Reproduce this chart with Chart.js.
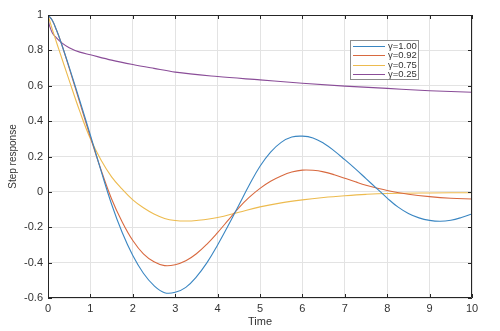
<!DOCTYPE html>
<html>
<head>
<meta charset="utf-8">
<script src="https://cdn.jsdelivr.net/npm/chart.js@4"></script>
<style>
html,body{margin:0;padding:0;background:#fff;}
canvas{display:block;}
</style>
</head>
<body>
<canvas id="c" width="500" height="331"></canvas>
<script>
// ---- data ----
const seriesLabels = ['γ=1.00', 'γ=0.92', 'γ=0.75', 'γ=0.25'];

const tBlue = [0, 0.1, 0.2, 0.3, 0.5, 0.75, 1, 1.25, 1.5, 1.75, 2, 2.25, 2.5, 2.75, 3, 3.25, 3.5, 3.75, 4, 4.25, 4.5, 4.75, 5, 5.25, 5.5, 5.75, 6, 6.25, 6.5, 6.75, 7, 7.25, 7.5, 7.75, 8, 8.25, 8.5, 8.75, 9, 9.25, 9.5, 9.75, 10];
const yBlue = [1, 0.97, 0.915, 0.85, 0.705, 0.515, 0.32, 0.12, -0.07, -0.23, -0.36, -0.46, -0.53, -0.57, -0.568, -0.54, -0.48, -0.4, -0.3, -0.19, -0.075, 0.04, 0.145, 0.225, 0.28, 0.31, 0.315, 0.305, 0.275, 0.232, 0.182, 0.13, 0.075, 0.02, -0.035, -0.085, -0.122, -0.147, -0.161, -0.166, -0.16, -0.145, -0.125];

const tRed = [0, 0.1, 0.2, 0.3, 0.5, 0.75, 1, 1.25, 1.5, 1.75, 2, 2.25, 2.5, 2.75, 3, 3.25, 3.5, 3.75, 4, 4.25, 4.5, 4.75, 5, 5.25, 5.5, 5.75, 6, 6.25, 6.5, 6.75, 7, 7.25, 7.5, 7.75, 8, 8.5, 9, 9.5, 10];
const yRed = [1, 0.97, 0.915, 0.85, 0.7, 0.505, 0.31, 0.125, -0.04, -0.17, -0.275, -0.35, -0.395, -0.417, -0.412, -0.39, -0.35, -0.295, -0.23, -0.16, -0.09, -0.03, 0.02, 0.06, 0.09, 0.112, 0.123, 0.122, 0.113, 0.097, 0.077, 0.057, 0.038, 0.022, 0.008, -0.013, -0.027, -0.036, -0.04];

const tYellow = [0, 0.1, 0.25, 0.5, 0.75, 1, 1.25, 1.5, 1.75, 2, 2.25, 2.5, 2.75, 3, 3.25, 3.5, 4, 4.5, 5, 5.5, 6, 6.5, 7, 7.5, 8, 9, 10];
const yYellow = [1, 0.92, 0.81, 0.63, 0.455, 0.3, 0.18, 0.085, 0.015, -0.045, -0.09, -0.125, -0.15, -0.162, -0.165, -0.162, -0.145, -0.115, -0.085, -0.062, -0.045, -0.032, -0.022, -0.014, -0.009, -0.006, -0.005];

const tPurple = [0, 0, 0.02, 0.05, 0.1, 0.2, 0.31, 0.5, 0.75, 1, 1.5, 2, 2.5, 3, 4, 5, 6, 7, 8, 9, 10];
const yPurple = [0, 1, 0.955, 0.93, 0.9, 0.87, 0.845, 0.815, 0.79, 0.775, 0.745, 0.72, 0.698, 0.677, 0.652, 0.633, 0.614, 0.598, 0.585, 0.572, 0.563];

const xTicks = [0, 1, 2, 3, 4, 5, 6, 7, 8, 9, 10];
const yTicks = [-0.6, -0.4, -0.2, 0, 0.2, 0.4, 0.6, 0.8, 1];

const colors = ['#3a86c2', '#d8693f', '#edbb4f', '#8a4d98'];

function pts(t, y) { return t.map((v, i) => ({x: v, y: y[i]})); }

const seriesData = [pts(tBlue, yBlue), pts(tRed, yRed), pts(tYellow, yYellow), pts(tPurple, yPurple)];

const FONT = "'Liberation Sans', Arial, Helvetica, sans-serif";

const frame = {
  id: 'frame',
  afterDraw(chart) {
    const {ctx, chartArea: a, scales} = chart;
    ctx.save();
    ctx.strokeStyle = '#262626';
    ctx.lineWidth = 1;
    ctx.beginPath();
    ctx.rect(a.left + 0.5, a.top + 0.5, a.right - a.left - 1, a.bottom - a.top - 1);
    ctx.stroke();
    const L = 4;
    ctx.beginPath();
    xTicks.forEach(v => {
      const px = Math.round(scales.x.getPixelForValue(v)) + 0.5;
      ctx.moveTo(px, a.bottom); ctx.lineTo(px, a.bottom - L);
      ctx.moveTo(px, a.top); ctx.lineTo(px, a.top + L);
    });
    yTicks.forEach(v => {
      const py = Math.round(scales.y.getPixelForValue(v)) + 0.5;
      ctx.moveTo(a.left, py); ctx.lineTo(a.left + L, py);
      ctx.moveTo(a.right, py); ctx.lineTo(a.right - L, py);
    });
    ctx.stroke();

    // legend (MATLAB style box)
    const bx = 350.5, by = 40.5, bw = 68, bh = 39;
    ctx.fillStyle = '#fff';
    ctx.fillRect(bx, by, bw, bh);
    ctx.strokeStyle = '#8c8c8c';
    ctx.strokeRect(bx, by, bw, bh);
    ctx.font = '9.5px ' + FONT;
    ctx.textBaseline = 'middle';
    ctx.textAlign = 'left';
    chart.data.datasets.forEach((ds, i) => {
      const y = 45.5 + i * 9.6;
      ctx.strokeStyle = ds.borderColor;
      ctx.beginPath();
      ctx.moveTo(353, Math.round(y) + 0.5);
      ctx.lineTo(385, Math.round(y) + 0.5);
      ctx.stroke();
      ctx.fillStyle = '#333';
      ctx.fillText(ds.label, 388, y + 0.5);
    });
    ctx.restore();
  }
};

new Chart(document.getElementById('c'), {
  type: 'line',
  data: {
    datasets: seriesLabels.map((lab, i) => ({
      label: lab,
      data: seriesData[i],
      borderColor: colors[i],
      backgroundColor: colors[i],
      borderWidth: 1.1,
      pointRadius: 0,
      fill: false,
      tension: 0.4,
      cubicInterpolationMode: i === 3 ? 'monotone' : 'default'
    }))
  },
  options: {
    responsive: false,
    animation: false,
    layout: {padding: {top: 15, right: 28, left: 0, bottom: 0}},
    plugins: {legend: {display: false}, tooltip: {enabled: false}},
    scales: {
      x: {
        type: 'linear', min: 0, max: 10,
        afterFit(s) { s.height = 33; },
        afterBuildTicks(s) { s.ticks = xTicks.map(v => ({value: v})); },
        grid: {color: '#e3e3e3', drawTicks: false},
        border: {display: false},
        ticks: {font: {size: 11, family: FONT}, color: '#333', padding: 4, maxRotation: 0,
                callback: v => String(Number(v.toFixed(1)))},
        title: {display: true, text: 'Time', font: {size: 11, family: FONT}, color: '#333', padding: {top: 0, bottom: 2}}
      },
      y: {
        type: 'linear', min: -0.6, max: 1,
        afterFit(s) { s.width = 48; },
        afterBuildTicks(s) { s.ticks = yTicks.map(v => ({value: v})); },
        grid: {color: '#e3e3e3', drawTicks: false},
        border: {display: false},
        ticks: {font: {size: 11, family: FONT}, color: '#333', padding: 5,
                callback: v => String(Number(v.toFixed(1)))},
        title: {display: true, text: 'Step response', font: {size: 10, family: FONT}, color: '#333', padding: {top: 7, bottom: 0}}
      }
    }
  },
  plugins: [frame]
});
</script>
</body>
</html>
